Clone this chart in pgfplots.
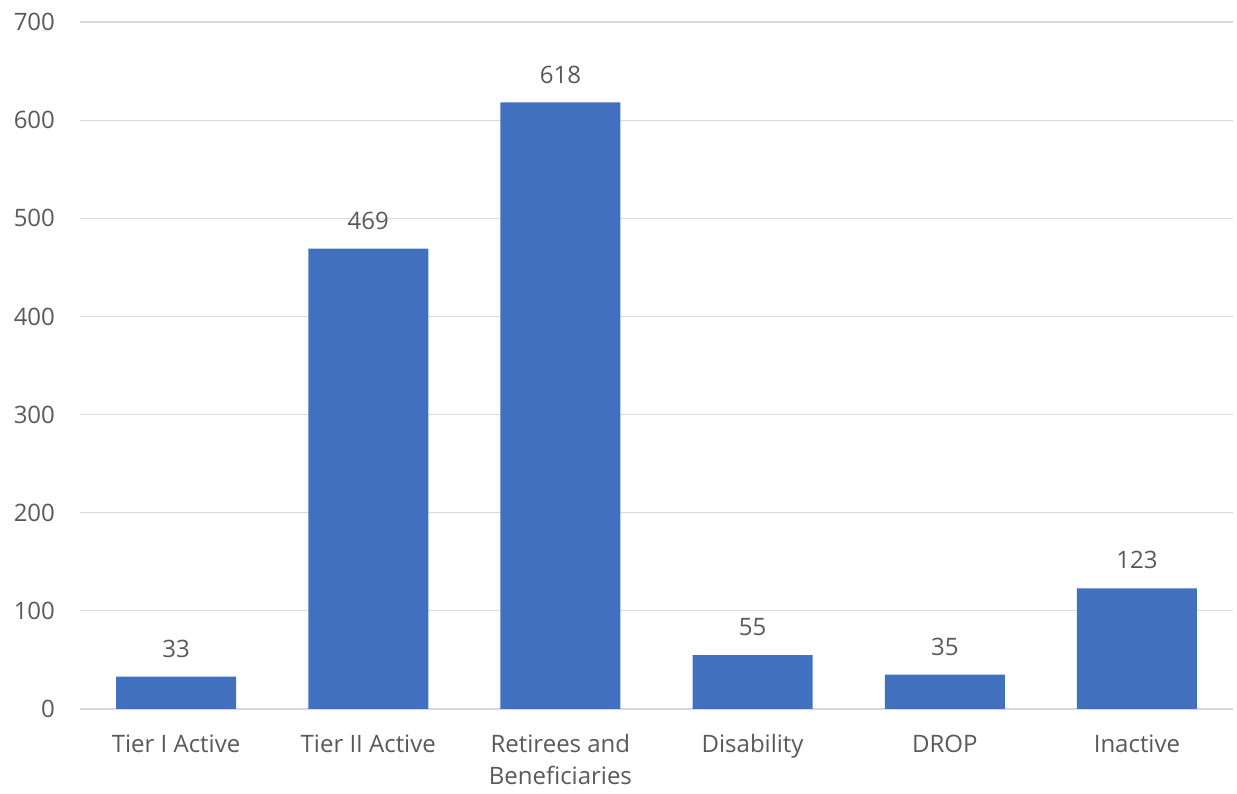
\documentclass[border=0pt]{standalone}
\usepackage{fontspec}
\setmainfont{Open Sans}
\usepackage{pgfplots}
\pgfplotsset{compat=1.18}

\definecolor{barblue}{HTML}{4170BF}
\definecolor{txtgray}{HTML}{595959}
\definecolor{gridgray}{HTML}{D9D9D9}

\begin{document}
\begin{tikzpicture}
  \begin{axis}[
    scale only axis,
    width=576.5pt, height=343.5pt,
    xmin=-0.5, xmax=5.5,
    ymin=0, ymax=700,
    ytick={0,100,...,700},
    xtick={0,1,2,3,4,5},
    xticklabels={Tier I Active\strut, Tier II Active\strut, {Retirees and\strut\\Beneficiaries}, Disability\strut, DROP\strut, Inactive\strut},
    axis line style={draw=none},
    axis x line*=bottom,
    x axis line style={draw=gridgray, line width=0.6pt},
    major tick length=0pt,
    ymajorgrids,
    grid style={gridgray, line width=0.6pt},
    tick label style={font=\fontsize{12}{16}\selectfont, text=txtgray},
    yticklabel style={xshift=-9pt},
    xticklabel style={align=center, yshift=-7pt},
    /pgf/number format/assume math mode=true,
    nodes near coords,
    every node near coord/.append style={font=\fontsize{12}{14}\selectfont, text=txtgray, yshift=6pt},
  ]
    \addplot[ybar, bar width=60pt, fill=barblue, draw=none]
      coordinates {(0,33) (1,469) (2,618) (3,55) (4,35) (5,123)};
  \end{axis}
  \pgfresetboundingbox
  \path[use as bounding box] ([shift={(-40pt,-42.5pt)}]current axis.south west)
    rectangle ([shift={(2pt,11pt)}]current axis.north east);
\end{tikzpicture}
\end{document}
